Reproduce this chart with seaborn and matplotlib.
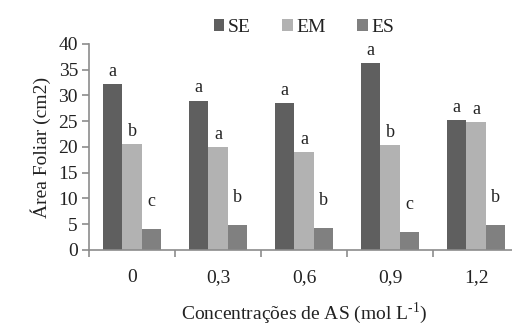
import numpy as np
import pandas as pd
import matplotlib
matplotlib.use('Agg')
import matplotlib.pyplot as plt
import seaborn as sns

# data
concentracoes = ['0', '0,3', '0,6', '0,9', '1,2']
series = ['SE', 'EM', 'ES']
se = [32.2, 29.0, 28.5, 36.3, 25.3]
em = [20.5, 20.0, 19.0, 20.3, 24.8]
es = [4.0, 4.8, 4.2, 3.5, 4.8]
letras_se = ['a', 'a', 'a', 'a', 'a']
letras_em = ['b', 'a', 'a', 'b', 'a']
letras_es = ['c', 'b', 'b', 'c', 'b']

df = pd.DataFrame({
    'conc': concentracoes * 3,
    'serie': ['SE'] * 5 + ['EM'] * 5 + ['ES'] * 5,
    'area': se + em + es,
})

sns.set_style('white')
plt.rcParams['font.family'] = ['Liberation Serif', 'DejaVu Serif']
plt.rcParams['mathtext.fontset'] = 'custom'
plt.rcParams['mathtext.rm'] = 'Liberation Serif'
plt.rcParams['axes.unicode_minus'] = False

fs = 14
txt = '#222222'
axcol = '#8c8c8c'
cores = ['#5f5f5f', '#b2b2b2', '#808080']

fig = plt.figure(figsize=(5.12, 3.27), dpi=100)
ax = fig.add_axes([0.174, 0.2355, 0.84, 0.63])

sns.barplot(data=df, x='conc', y='area', hue='serie', hue_order=series,
            palette=cores, width=0.675, saturation=1, ax=ax, legend=True,
            linewidth=0, errorbar=None)

# letras das medias
for cont, lab, pad in zip(ax.containers, [letras_se, letras_em, letras_es], [3, 3, 14]):
    ax.bar_label(cont, labels=lab, padding=pad, fontsize=fs - 1, color=txt)

ax.set_xlim(-0.5, 4.5)
ax.set_ylim(0, 40)
ax.set_yticks(range(0, 41, 5))
ax.set_xticks(np.arange(-0.5, 4.6, 1), minor=True)

for s in ['top', 'right']:
    ax.spines[s].set_visible(False)
for s in ['left', 'bottom']:
    ax.spines[s].set_color(axcol)
    ax.spines[s].set_linewidth(1.2)

ax.tick_params(axis='y', which='major', length=5, color=axcol, width=1.2,
               labelsize=fs, labelcolor=txt, pad=3, left=True)
ax.tick_params(axis='x', which='major', length=0, labelsize=fs, labelcolor=txt, pad=14)
ax.tick_params(axis='x', which='minor', length=5, color=axcol, width=1.2, bottom=True)

ax.set_xlabel('Concentrações de AS (mol L$^{\\mathregular{\\text{-}1}}$)', fontsize=fs,
              color=txt, labelpad=10)
ax.set_ylabel('Área Foliar (cm2)', fontsize=fs, color=txt, labelpad=5)

ax.legend(loc='lower center', bbox_to_anchor=(0.5, 1.0), ncol=3, frameon=False,
          prop={'family': 'Liberation Serif', 'size': fs}, handlelength=0.55,
          handleheight=0.55, handletextpad=0.2, columnspacing=1.6,
          borderaxespad=0.0, labelcolor=txt)

fig.savefig('out.png', dpi=100)
